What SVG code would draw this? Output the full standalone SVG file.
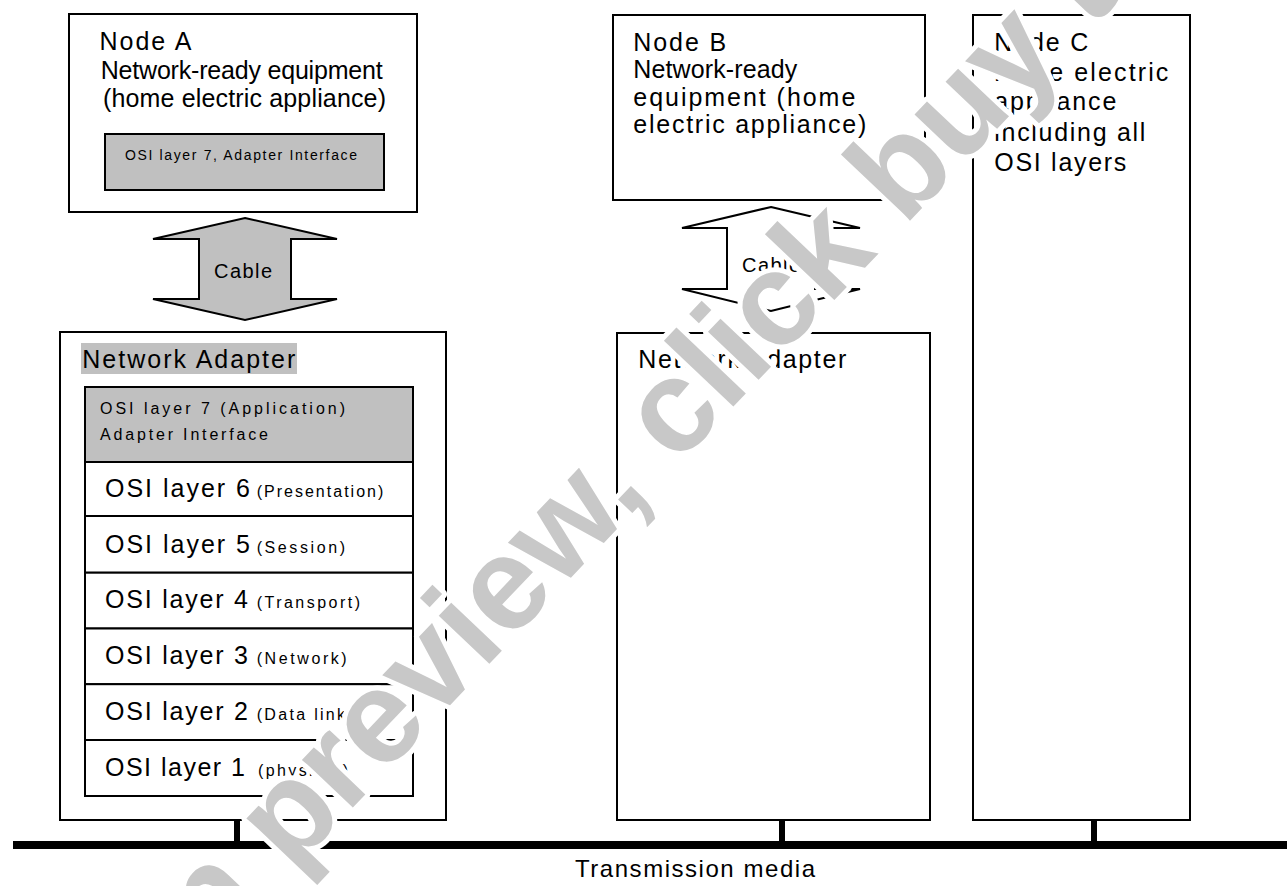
<svg xmlns="http://www.w3.org/2000/svg" width="1287" height="886" viewBox="0 0 1287 886">
<style>
  .box { fill: #ffffff; stroke: #000000; stroke-width: 2; }
  .grey { fill: #c0c0c0; stroke: #000000; stroke-width: 2; }
  .t { font-family: "Liberation Sans", Arial, sans-serif; fill: #000000; }
  .big { font-size: 25px; }
  .mid { font-size: 20px; }
  .sm { font-size: 16px; }
  .wm { font-family: "Liberation Sans", Arial, sans-serif; font-weight: bold; font-size: 132px; fill: #c8c8c8; stroke: #ffffff; stroke-width: 10; stroke-linejoin: round; paint-order: stroke; }
</style>
<rect x="0" y="0" width="1287" height="886" fill="#ffffff"/>

<g id="nodeA">
  <rect class="box" x="69" y="14" width="348" height="198"/>
  <text class="t big" x="99.5" y="50" textLength="92" lengthAdjust="spacing">Node A</text>
  <text class="t big" x="100.7" y="79" textLength="282" lengthAdjust="spacing">Network-ready equipment</text>
  <text class="t big" x="103" y="107" textLength="283" lengthAdjust="spacing">(home electric appliance)</text>
  <rect class="grey" x="105" y="134" width="279" height="56"/>
  <text class="t" style="font-size:14px" x="125" y="160" textLength="232" lengthAdjust="spacing">OSI layer 7, Adapter Interface</text>
</g>

<g id="cableA">
  <polygon class="grey" stroke-width="1.5" points="245,218 337,239 291,239 291,299 337,299 245,320 153,299 199,299 199,239 153,239"/>
  <text class="t mid" x="214" y="278" textLength="58" lengthAdjust="spacing">Cable</text>
</g>

<g id="adapterA">
  <rect class="box" x="60" y="332" width="386" height="488"/>
  <rect x="81" y="343" width="216" height="31" fill="#c0c0c0"/>
  <text class="t big" x="82.3" y="368.3" textLength="213" lengthAdjust="spacing">Network Adapter</text>
  <rect class="grey" x="85" y="387" width="328" height="75"/>
  <text class="t" style="font-size:16px" x="100" y="414" textLength="245" lengthAdjust="spacing">OSI layer 7 (Application)</text>
  <text class="t" style="font-size:16px" x="100" y="440" textLength="168" lengthAdjust="spacing">Adapter Interface</text>
  <rect class="box" x="85" y="462" width="328" height="54"/>
  <rect class="box" x="85" y="516" width="328" height="56.7"/>
  <rect class="box" x="85" y="572.7" width="328" height="55.8"/>
  <rect class="box" x="85" y="628.5" width="328" height="55.7"/>
  <rect class="box" x="85" y="684.2" width="328" height="55.8"/>
  <rect class="box" x="85" y="740" width="328" height="56"/>
  <text class="t big" x="105" y="497" textLength="145" lengthAdjust="spacing">OSI layer 6</text>
  <text class="t sm" x="256.7" y="497" textLength="126.6" lengthAdjust="spacing">(Presentation)</text>
  <text class="t big" x="105" y="552.7" textLength="145" lengthAdjust="spacing">OSI layer 5</text>
  <text class="t sm" x="256.7" y="552.7" textLength="88.3" lengthAdjust="spacing">(Session)</text>
  <text class="t big" x="105" y="608.3" textLength="143" lengthAdjust="spacing">OSI layer 4</text>
  <text class="t sm" x="256.7" y="608.3" textLength="103.3" lengthAdjust="spacing">(Transport)</text>
  <text class="t big" x="105" y="664.3" textLength="143" lengthAdjust="spacing">OSI layer 3</text>
  <text class="t sm" x="256.7" y="664.3" textLength="90" lengthAdjust="spacing">(Network)</text>
  <text class="t big" x="105" y="720" textLength="143" lengthAdjust="spacing">OSI layer 2</text>
  <text class="t sm" x="256.7" y="720" textLength="96" lengthAdjust="spacing">(Data link)</text>
  <text class="t big" x="105" y="776" textLength="140" lengthAdjust="spacing">OSI layer 1</text>
  <text class="t sm" x="258" y="776" textLength="90" lengthAdjust="spacing">(physical)</text>
</g>

<g id="nodeB">
  <rect class="box" x="613" y="15" width="312" height="185"/>
  <text class="t big" x="633.3" y="51" textLength="93" lengthAdjust="spacing">Node B</text>
  <text class="t big" x="633.3" y="78" textLength="164" lengthAdjust="spacing">Network-ready</text>
  <text class="t big" x="633.3" y="106" textLength="222" lengthAdjust="spacing">equipment (home</text>
  <text class="t big" x="633.3" y="133" textLength="233" lengthAdjust="spacing">electric appliance)</text>
</g>

<g id="cableB">
  <polygon class="box" stroke-width="1.5" points="771,207 860,228 815,228 815,289 860,289 771,311 682,289 727,289 727,228 682,228"/>
  <text class="t mid" x="742" y="272" textLength="58" lengthAdjust="spacing">Cable</text>
</g>

<g id="adapterB">
  <rect class="box" x="617" y="333" width="313" height="487"/>
  <text class="t big" x="638.3" y="368.3" textLength="208" lengthAdjust="spacing">Network Adapter</text>
</g>

<g id="nodeC">
  <rect class="box" x="973" y="15" width="217" height="805"/>
  <text class="t big" x="994.3" y="51" textLength="94" lengthAdjust="spacing">Node C</text>
  <text class="t big" x="994.3" y="81" textLength="174" lengthAdjust="spacing">home electric</text>
  <text class="t big" x="994.3" y="110" textLength="122" lengthAdjust="spacing">appliance</text>
  <text class="t big" x="994.3" y="141" textLength="151" lengthAdjust="spacing">including all</text>
  <text class="t big" x="994.3" y="171" textLength="132" lengthAdjust="spacing">OSI layers</text>
</g>

<g id="connectors">
  <rect x="13" y="841" width="1274" height="8" fill="#000000"/>
  <rect x="234" y="820" width="6" height="21" fill="#000000"/>
  <rect x="779" y="820" width="6" height="21" fill="#000000"/>
  <rect x="1091" y="820" width="6" height="21" fill="#000000"/>
</g>

<g id="media">
  <text class="t" style="font-size:24px" x="575" y="877" textLength="240" lengthAdjust="spacing">Transmission media</text>
</g>

<g id="watermark">
  <text class="wm" transform="translate(33.6,1144) rotate(-46.5)">Open preview, click buy to</text>
</g>
</svg>
